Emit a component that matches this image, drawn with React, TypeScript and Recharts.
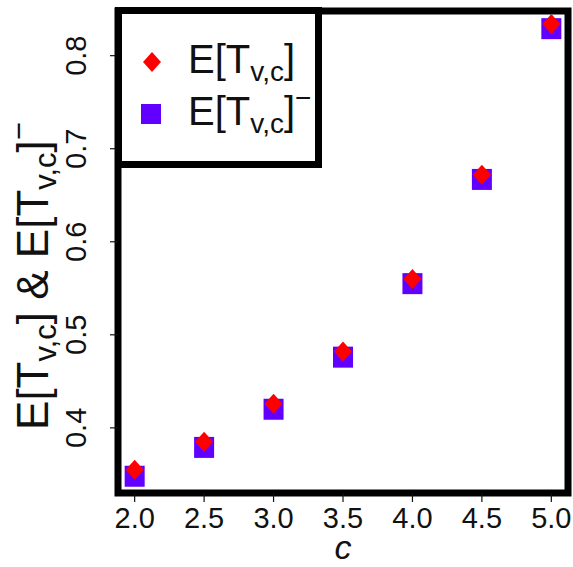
import React from 'react'
import {
  ScatterChart,
  Scatter,
  XAxis,
  YAxis,
  ReferenceArea,
  Legend,
} from 'recharts'

const C_VALUES = [2.0, 2.5, 3.0, 3.5, 4.0, 4.5, 5.0]
const E_T = [0.355, 0.385, 0.426, 0.482, 0.56, 0.672, 0.834]
const E_T_MINUS = [0.348, 0.379, 0.42, 0.476, 0.555, 0.667, 0.829]
const X_TICKS = [2.0, 2.5, 3.0, 3.5, 4.0, 4.5, 5.0]
const Y_TICKS = [0.4, 0.5, 0.6, 0.7, 0.8]
const X_DOMAIN = [1.88, 5.12]
const Y_DOMAIN = [0.33, 0.848]

const FONT = '"Liberation Sans", Arial, sans-serif'
const RED = '#ff0000'
const BLUE = '#6200ff'

const redData = C_VALUES.map((c, i) => ({ c, v: E_T[i] }))
const blueData = C_VALUES.map((c, i) => ({ c, v: E_T_MINUS[i] }))

const Diamond = (props: any) => {
  const { cx, cy } = props
  return <polygon points={`${cx},${cy - 10} ${cx + 9},${cy} ${cx},${cy + 10} ${cx - 9},${cy}`} fill={RED} />
}

const Square = (props: any) => {
  const { cx, cy } = props
  return <rect x={cx - 10} y={cy - 10.5} width={20} height={21} fill={BLUE} />
}

const XTick = ({ x, y, payload }: any) => (
  <text x={x} y={y + 24} textAnchor="middle" fontFamily={FONT} fontSize={29} fill="#111">
    {payload.value.toFixed(1)}
  </text>
)

const YTick = ({ x, y, payload }: any) => (
  <text
    x={x - 22}
    y={y}
    transform={`rotate(-90, ${x - 22}, ${y})`}
    textAnchor="middle"
    fontFamily={FONT}
    fontSize={29}
    fill="#111"
  >
    {payload.value.toFixed(1)}
  </text>
)

// E[T_{v,c}] with optional superscript bar
const Expr = ({ size, minus }: { size: number; minus?: boolean }) => {
  const sub = size * 0.7
  return (
    <>
      E[T
      <tspan fontSize={sub} dy={size * 0.2}>v,c</tspan>
      <tspan fontSize={size} dy={-size * 0.2}>]</tspan>
      {minus && <tspan fontSize={sub} dy={-size * 0.45}>{'\u2212'}</tspan>}
    </>
  )
}

const YLabel = () => (
  <text
    x={48}
    y={276}
    transform="rotate(-90, 48, 276)"
    textAnchor="middle"
    fontFamily={FONT}
    fontSize={44}
    fill="#111"
  >
    E[T
    <tspan fontSize={31} dy={8}>v,c</tspan>
    <tspan fontSize={44} dy={-8}>] &amp; E[T</tspan>
    <tspan fontSize={31} dy={8}>v,c</tspan>
    <tspan fontSize={44} dy={-8}>]</tspan>
    <tspan fontSize={31} dy={-19}>{'\u2212'}</tspan>
  </text>
)

const XLabel = () => (
  <text x={343} y={559} textAnchor="middle" fontFamily={FONT} fontSize={34} fontStyle="italic" fill="#111">
    c
  </text>
)

const LegendBox = () => (
  <div
    style={{
      width: 207,
      height: 161,
      border: '7px solid #000',
      boxSizing: 'border-box',
      background: '#fff',
    }}
  >
    <svg width={193} height={147} style={{ display: 'block' }}>
      <polygon points="30,38 39,48 30,58 21,48" fill={RED} />
      <text x={66} y={59} fontFamily={FONT} fontSize={40} fill="#111">
        <Expr size={40} />
      </text>
      <rect x={19} y={90} width={20} height={20} fill={BLUE} />
      <text x={66} y={111} fontFamily={FONT} fontSize={40} fill="#111">
        <Expr size={40} minus />
      </text>
    </svg>
  </div>
)

export default function App() {
  return (
    <div style={{ position: 'absolute', left: 0, top: 0, width: 573, height: 567, background: '#fff' }}>
      <ScatterChart width={573} height={567} margin={{ top: 11, right: 5, bottom: 0, left: 0 }}>
        <XAxis
          type="number"
          dataKey="c"
          domain={X_DOMAIN}
          ticks={X_TICKS}
          allowDataOverflow
          height={74}
          tickSize={9}
          axisLine={false}
          tickLine={{ stroke: '#111', strokeWidth: 1.2 }}
          tick={<XTick />}
          label={{ content: () => <XLabel /> }}
        />
        <YAxis
          type="number"
          dataKey="v"
          domain={Y_DOMAIN}
          ticks={Y_TICKS}
          allowDataOverflow
          width={118}
          tickSize={8}
          axisLine={false}
          tickLine={{ stroke: '#111', strokeWidth: 1.2 }}
          tick={<YTick />}
          label={{ content: () => <YLabel /> }}
        />
        <Legend
          layout="vertical"
          align="center"
          verticalAlign="middle"
          wrapperStyle={{ left: 115, top: 7, width: 207, height: 161 }}
          content={() => <LegendBox />}
        />
        <Scatter name="E[Tv,c]-" data={blueData} shape={<Square />} isAnimationActive={false} />
        <Scatter name="E[Tv,c]" data={redData} shape={<Diamond />} isAnimationActive={false} />
        <ReferenceArea
          x1={X_DOMAIN[0]}
          x2={X_DOMAIN[1]}
          y1={Y_DOMAIN[0]}
          y2={Y_DOMAIN[1]}
          fill="none"
          stroke="#000"
          strokeWidth={7}
          ifOverflow="visible"
        />
      </ScatterChart>
    </div>
  )
}
